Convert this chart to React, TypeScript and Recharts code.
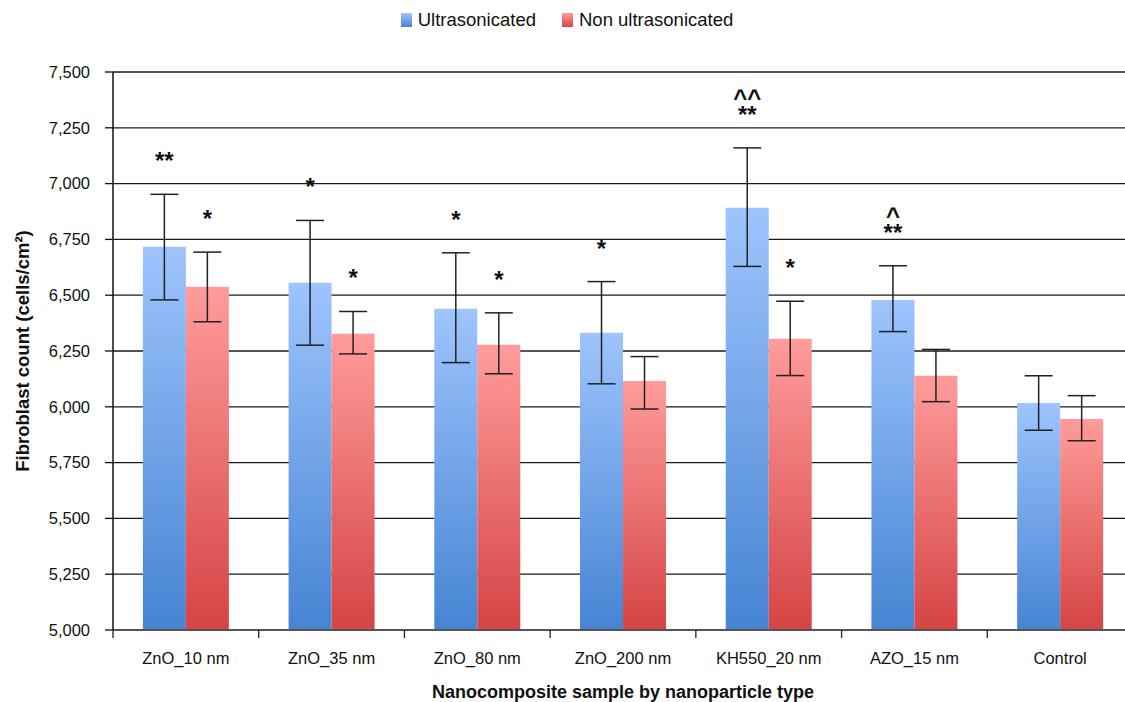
import React from "react";
import {
  Bar,
  BarChart,
  CartesianGrid,
  ErrorBar,
  LabelList,
  XAxis,
  YAxis,
} from "recharts";

// Data
const categories = [
  "ZnO_10 nm",
  "ZnO_35 nm",
  "ZnO_80 nm",
  "ZnO_200 nm",
  "KH550_20 nm",
  "AZO_15 nm",
  "Control",
];
const ultrasonicated = [6717, 6556, 6439, 6332, 6892, 6478, 6017];
const ultraLow = [6479, 6276, 6198, 6103, 6629, 6337, 5895];
const ultraHigh = [6952, 6835, 6690, 6561, 7160, 6632, 6139];
const nonUltrasonicated = [6538, 6327, 6278, 6116, 6305, 6139, 5945];
const nonLow = [6381, 6237, 6148, 5990, 6140, 6023, 5848];
const nonHigh = [6693, 6427, 6421, 6225, 6473, 6257, 6050];
const ultraMarks = ["**", "*", "*", "*", "^^\n**", "^\n**", ""];
const nonMarks = ["*", "*", "*", "", "*", "", ""];
const yTicks = [5000, 5250, 5500, 5750, 6000, 6250, 6500, 6750, 7000, 7250, 7500];

const Y_MIN = 5000;
const FONT = "'Liberation Sans', Arial, sans-serif";
const WIDTH = 1134;
const HEIGHT = 702;
const MARGIN = { top: 72, right: 1, bottom: 0, left: 0 };
const Y_W = 113;
const BAND = (WIDTH - MARGIN.left - MARGIN.right - Y_W) / categories.length;
const LINE_GAP = 17;

const data = categories.map((name, i) => ({
  name,
  u: ultrasonicated[i],
  n: nonUltrasonicated[i],
  uErr: [ultrasonicated[i] - ultraLow[i], ultraHigh[i] - ultrasonicated[i]],
  nErr: [nonUltrasonicated[i] - nonLow[i], nonHigh[i] - nonUltrasonicated[i]],
}));

const fmt = (v: number) => v.toLocaleString("en-US");

// significance marks, a fixed distance above the error bar top
function markLabel(values: number[], highs: number[], marks: string[]) {
  return (props: any) => {
    const { x, y, width, height, index } = props;
    const txt = marks[index];
    if (!txt) return null;
    const v = values[index];
    const pxPer = height / (v - Y_MIN);
    const errTop = y - (highs[index] - v) * pxPer;
    const lines = txt.split("\n");
    const cx = x + width / 2;
    const firstCenter = errTop - 36 - (lines.length - 1) * LINE_GAP;
    return (
      <text
        x={cx}
        y={firstCenter + 11}
        textAnchor="middle"
        fontSize={24}
        fontWeight="bold"
        fontFamily={FONT}
        fill="#111"
      >
        {lines.map((l, k) => (
          <tspan key={k} x={cx} dy={k === 0 ? 0 : LINE_GAP}>
            {l}
          </tspan>
        ))}
      </text>
    );
  };
}

function XTick(props: any) {
  const { x, y, payload, index } = props;
  const axisY = y - 8;
  return (
    <g>
      <line x1={x - BAND / 2} x2={x - BAND / 2} y1={axisY} y2={axisY + 8} stroke="#222" strokeWidth={1.3} />
      {index === categories.length - 1 && (
        <line x1={x + BAND / 2} x2={x + BAND / 2} y1={axisY} y2={axisY + 8} stroke="#222" strokeWidth={1.3} />
      )}
      <text x={x} y={axisY + 34} textAnchor="middle" fontSize={16.5} fontFamily={FONT} fill="#111">
        {payload.value}
      </text>
    </g>
  );
}

function LegendBox() {
  const items = [
    { label: "Ultrasonicated", fill: "url(#gBlue)" },
    { label: "Non ultrasonicated", fill: "url(#gRed)" },
  ];
  return (
    <div
      style={{
        position: "absolute",
        top: 9,
        left: 0,
        width: WIDTH,
        display: "flex",
        justifyContent: "center",
        gap: 26,
        fontFamily: FONT,
        fontSize: 18.5,
        color: "#111",
      }}
    >
      {items.map((it) => (
        <div key={it.label} style={{ display: "flex", alignItems: "center", gap: 6 }}>
          <svg width={11} height={14}>
            <rect width={11} height={14} fill={it.fill} />
          </svg>
          <span>{it.label}</span>
        </div>
      ))}
    </div>
  );
}

export default function App() {
  return (
    <div style={{ position: "absolute", left: 0, top: 0, width: 1125, height: HEIGHT, overflow: "hidden", background: "#fff" }}>
      <svg width={0} height={0} style={{ position: "absolute" }}>
        <defs>
          <linearGradient id="gBlue" x1="0" y1="0" x2="0" y2="1">
            <stop offset="0%" stopColor="#9ec4fd" />
            <stop offset="100%" stopColor="#4684d3" />
          </linearGradient>
          <linearGradient id="gRed" x1="0" y1="0" x2="0" y2="1">
            <stop offset="0%" stopColor="#ff9c9b" />
            <stop offset="100%" stopColor="#d54444" />
          </linearGradient>
        </defs>
      </svg>
      <LegendBox />
      <BarChart
        width={WIDTH}
        height={HEIGHT}
        data={data}
        margin={MARGIN}
        barCategoryGap="20.5%"
        barGap={0}
      >
        <CartesianGrid vertical={false} stroke="#1a1a1a" strokeWidth={1.3} />
        <XAxis
          dataKey="name"
          height={72}
          axisLine={{ stroke: "#555", strokeWidth: 2 }}
          tickLine={false}
          tickSize={8}
          tickMargin={0}
          tick={<XTick />}
          interval={0}
          label={{
            value: "Nanocomposite sample by nanoparticle type",
            position: "insideBottom",
            offset: 4,
            fontSize: 18,
            fontWeight: "bold",
            fontFamily: FONT,
            fill: "#111",
          }}
        />
        <YAxis
          width={Y_W}
          domain={[5000, 7500]}
          ticks={yTicks}
          interval={0}
          tickFormatter={fmt}
          axisLine={{ stroke: "#111", strokeWidth: 1.5 }}
          tickLine={{ stroke: "#111", strokeWidth: 1.3 }}
          tickSize={8}
          tickMargin={15}
          tick={{ fontSize: 16.5, fontFamily: FONT, fill: "#111" }}
          label={(p: any) => {
            const vb = p.viewBox;
            const cx = 22;
            const cy = vb.y + vb.height / 2;
            return (
              <text
                x={cx}
                y={cy}
                transform={`rotate(-90 ${cx} ${cy})`}
                textAnchor="middle"
                dominantBaseline="central"
                fontSize={18.5}
                fontWeight="bold"
                fontFamily={FONT}
                fill="#111"
              >
                Fibroblast count (cells/cm²)
              </text>
            );
          }}
        />
        <Bar dataKey="u" name="Ultrasonicated" fill="url(#gBlue)" isAnimationActive={false}>
          <ErrorBar dataKey="uErr" width={14} stroke="#222" strokeWidth={1.5} />
          <LabelList dataKey="u" content={markLabel(ultrasonicated, ultraHigh, ultraMarks)} />
        </Bar>
        <Bar dataKey="n" name="Non ultrasonicated" fill="url(#gRed)" isAnimationActive={false}>
          <ErrorBar dataKey="nErr" width={14} stroke="#222" strokeWidth={1.5} />
          <LabelList dataKey="n" content={markLabel(nonUltrasonicated, nonHigh, nonMarks)} />
        </Bar>
      </BarChart>
    </div>
  );
}
